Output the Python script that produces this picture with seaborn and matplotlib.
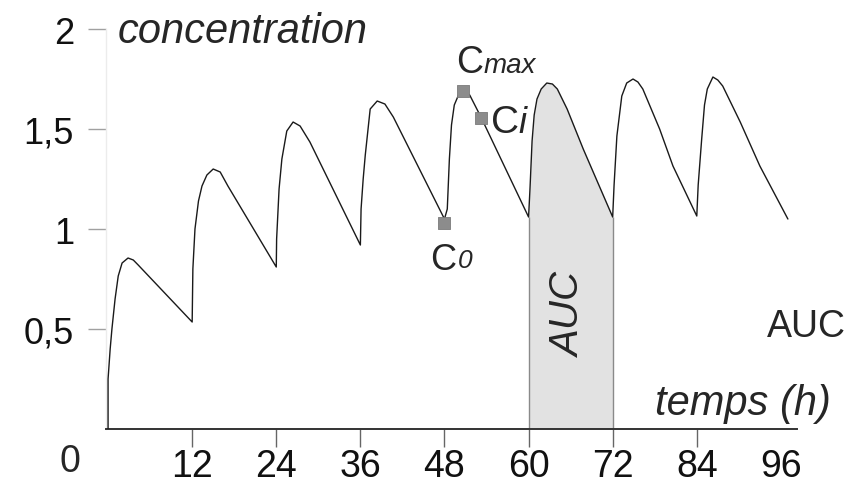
import matplotlib
matplotlib.use("Agg")
import matplotlib.pyplot as plt
import pandas as pd
import seaborn as sns

# Concentration curve (8 doses, every 12 h)
time_h = [
    0.0, 0.0, 0.3, 0.55, 1.0, 1.45, 2.0, 2.85, 3.6, 4.3,
    12.0, 12.1, 12.4, 12.9, 13.4, 14.1, 15.0, 16.0, 17.1,
    24.0, 24.05, 24.4, 24.8, 25.5, 26.4, 27.4, 28.8,
    36.0, 36.1, 36.4, 36.7, 37.4, 38.4, 39.5, 40.7,
    48.0, 48.4, 48.7, 49.0, 49.4, 50.0, 50.7, 51.6, 53.2,
    60.0, 60.2, 60.5, 60.8, 61.2, 61.8, 62.6, 63.4, 64.1, 65.5, 67.8,
    72.0, 72.2, 72.6, 73.3, 74.0, 74.9, 75.6, 76.3, 78.7, 80.6,
    84.0, 84.2, 84.7, 85.1, 85.5, 86.3, 87.0, 87.7, 90.2, 93.0,
    97.0,
]
conc = [
    0.0, 0.25, 0.40, 0.50, 0.65, 0.765, 0.83, 0.855, 0.845, 0.82,
    0.535, 0.80, 1.0, 1.14, 1.215, 1.27, 1.30, 1.285, 1.215,
    0.81, 0.95, 1.20, 1.35, 1.49, 1.535, 1.515, 1.435,
    0.92, 1.10, 1.25, 1.37, 1.60, 1.64, 1.625, 1.56,
    1.05, 1.10, 1.35, 1.52, 1.62, 1.67, 1.69, 1.67, 1.56,
    1.06, 1.20, 1.44, 1.57, 1.65, 1.70, 1.73, 1.725, 1.70, 1.60, 1.40,
    1.06, 1.22, 1.465, 1.665, 1.73, 1.75, 1.735, 1.70, 1.50, 1.315,
    1.065, 1.22, 1.45, 1.62, 1.70, 1.76, 1.745, 1.715, 1.535, 1.315,
    1.05,
]

auc_window = [60.0, 72.0]

marker_labels = ["C0", "Cmax", "Ci"]
marker_time = [47.9, 50.6, 53.2]
marker_conc = [1.028, 1.69, 1.557]

x_ticks = [12, 24, 36, 48, 60, 72, 84, 96]
x_tick_labels = ["12", "24", "36", "48", "60", "72", "84", "96"]
y_ticks = [0.5, 1.0, 1.5, 2.0]
y_tick_labels = ["0,5", "1", "1,5", "2"]

sns.set_style("white")
plt.rcParams["font.family"] = ["Liberation Sans", "DejaVu Sans"]

df = pd.DataFrame({"time": time_h, "conc": conc})
markers_df = pd.DataFrame({"name": marker_labels, "time": marker_time, "conc": marker_conc})

fig = plt.figure(figsize=(8.45, 4.85), dpi=100)
ax = fig.add_axes([0.1254, 0.1134, 0.8178, 0.8247])

# AUC shading between the two doses
auc = df[(df["time"] >= auc_window[0]) & (df["time"] <= auc_window[1])]
ax.fill_between(auc["time"], 0, auc["conc"], color="#e2e2e2", lw=0, zorder=1)
ax.vlines(auc_window, 0, [auc["conc"].iloc[0], auc["conc"].iloc[-1]],
          color="#8a8a8a", lw=1.0, zorder=2)

sns.lineplot(data=df, x="time", y="conc", estimator=None, sort=False,
             color="#1a1a1a", lw=1.0, ax=ax, zorder=3)
sns.scatterplot(data=markers_df, x="time", y="conc", marker="s", s=80,
                color="#8c8c8c", edgecolor="#7a7a7a", linewidth=0.6, ax=ax, zorder=4)

ax.set_xlim(-0.3, 98.3)
ax.set_ylim(0, 2)
ax.set_xlabel("")
ax.set_ylabel("")

ax.set_xticks(x_ticks)
ax.set_xticklabels(x_tick_labels)
ax.set_yticks(y_ticks)
ax.set_yticklabels(y_tick_labels)
ax.tick_params(axis="x", bottom=True, direction="out", length=13, width=1,
               color="#666666", pad=1, labelsize=27, labelcolor="#111111")
ax.tick_params(axis="y", left=True, direction="out", length=13, width=1,
               color="#a0a0a0", pad=10, labelsize=26, labelcolor="#111111")
ax.xaxis.get_major_ticks()[-1].tick1line.set_visible(False)

for side in ["top", "right"]:
    ax.spines[side].set_visible(False)
ax.spines["bottom"].set_color("#333333")
ax.spines["bottom"].set_linewidth(1.4)
ax.spines["left"].set_color("#ececec")
ax.spines["left"].set_linewidth(1.0)

# text annotations
ax.text(-5.4, -0.16, "0", fontsize=27, ha="center", va="center", clip_on=False)
ax.text(1.4, 1.935, "concentration", fontsize=30, fontstyle="italic",
        ha="left", va="baseline")
ax.text(78.0, 0.075, "temps (h)", fontsize=30, fontstyle="italic",
        ha="left", va="baseline")
ax.text(94.0, 0.465, "AUC", fontsize=27, ha="left", va="baseline", clip_on=False)
ax.text(65.8, 0.58, "AUC", fontsize=29, fontstyle="italic", rotation=90,
        ha="center", va="center")

ax.text(46.0, 0.80, "C", fontsize=26, ha="left", va="baseline")
ax.text(49.9, 0.81, "0", fontsize=19, fontstyle="italic", ha="left", va="baseline")
ax.text(49.6, 1.785, "C", fontsize=27, ha="left", va="baseline")
ax.text(53.6, 1.785, "max", fontsize=20, fontstyle="italic", ha="left", va="baseline")
ax.text(54.7, 1.485, "C", fontsize=28, ha="left", va="baseline")
ax.text(58.6, 1.485, "i", fontsize=26, fontstyle="italic", ha="left", va="baseline")

fig.savefig("out.png", dpi=100)
plt.close(fig)
